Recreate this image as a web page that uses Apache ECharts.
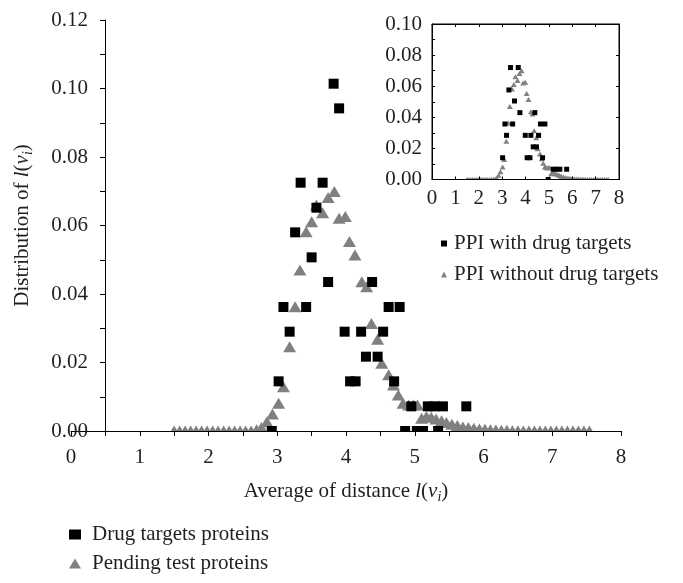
<!DOCTYPE html>
<html>
<head>
<meta charset="utf-8">
<script src="https://cdn.jsdelivr.net/npm/echarts@6/dist/echarts.min.js"></script>
<style>html,body{margin:0;padding:0;background:#fff}#c{width:683px;height:583px}</style>
</head>
<body>
<div id="c"></div>
<script>
// ---- main chart data ----
const drugX = [2.92, 3.02, 3.09, 3.18, 3.26, 3.34, 3.42, 3.50, 3.57, 3.66, 3.74, 3.82, 3.90, 3.98, 4.06, 4.14, 4.22, 4.29, 4.38, 4.46, 4.54, 4.62, 4.70, 4.78, 4.86, 4.95, 5.03, 5.12, 5.19, 5.29, 5.34, 5.41, 5.75];
const drugY = [0, 0.0145, 0.0362, 0.029, 0.058, 0.0725, 0.0362, 0.0507, 0.0652, 0.0725, 0.0435, 0.1014, 0.0942, 0.029, 0.0145, 0.0145, 0.029, 0.0217, 0.0435, 0.0217, 0.029, 0.0362, 0.0145, 0.0362, 0, 0.0072, 0, 0, 0.0072, 0.0072, 0, 0.0072, 0.0072];

const pendX = [1.50, 1.58, 1.66, 1.74, 1.82, 1.90, 1.98, 2.06, 2.14, 2.22, 2.30, 2.38, 2.46, 2.54, 2.62, 2.70, 2.77, 2.85, 2.93, 3.02, 3.09, 3.18, 3.26, 3.33, 3.42, 3.50, 3.57, 3.66, 3.74, 3.83, 3.90, 3.99, 4.05, 4.13, 4.23, 4.30, 4.37, 4.46, 4.52, 4.62, 4.69, 4.76, 4.83, 4.91, 4.98, 5.04, 5.10, 5.17, 5.24, 5.31, 5.39, 5.46, 5.54, 5.62, 5.70, 5.78, 5.86, 5.94, 6.02, 6.10, 6.18, 6.26, 6.34, 6.42, 6.50, 6.58, 6.66, 6.74, 6.82, 6.90, 6.98, 7.06, 7.14, 7.22, 7.30, 7.38, 7.46, 7.54];
const pendY = [0, 0, 0, 0, 0, 0, 0, 0, 0, 0, 0, 0, 0, 0, 0, 0.0004, 0.001, 0.0027, 0.005, 0.0081, 0.0129, 0.0246, 0.0363, 0.047, 0.0582, 0.0611, 0.066, 0.0637, 0.0682, 0.0699, 0.0621, 0.0626, 0.0553, 0.0514, 0.0436, 0.0421, 0.0314, 0.0268, 0.0198, 0.0164, 0.0134, 0.0105, 0.0081, 0.0076, 0.0076, 0.0076, 0.0037, 0.0042, 0.004, 0.0035, 0.003, 0.0025, 0.002, 0.0016, 0.0012, 0.001, 0.0008, 0.0006, 0.0005, 0.0004, 0.0003, 0.0002, 0.0002, 0.0001, 0.0001, 0, 0, 0, 0, 0, 0, 0, 0, 0, 0, 0, 0, 0];

// ---- inset data ----
const ppiWithX = [3.02, 3.12, 3.19, 3.29, 3.36, 3.45, 3.53, 3.69, 3.76, 3.99, 4.07, 4.19, 4.23, 4.33, 4.40, 4.47, 4.56, 4.64, 4.73, 4.83, 4.97, 5.19, 5.33, 5.47, 5.76];
const ppiWithY = [0.014, 0.0357, 0.0284, 0.0576, 0.072, 0.0357, 0.0505, 0.072, 0.043, 0.0284, 0.014, 0.014, 0.0284, 0.021, 0.043, 0.021, 0.0284, 0.0357, 0.014, 0.0357, 0, 0.0066, 0.0066, 0.0066, 0.0066];
const ppiWithoutX = pendX;
const ppiWithoutY = pendY;

// ---- tick labels ----
const mainXTicks = [0, 1, 2, 3, 4, 5, 6, 7, 8];
const mainYTicks = ['0.00', '0.02', '0.04', '0.06', '0.08', '0.10', '0.12'];
const insetYTicks = ['0.00', '0.02', '0.04', '0.06', '0.08', '0.10'];

const seriesNames = ['Drug targets proteins', 'Pending test proteins'];
const insetNames = ['PPI with drug targets', 'PPI without drug targets'];

const FONT = 'Liberation Serif';
const FS = 21;
const TXT = '#231f20';
const zip = (xs, ys) => xs.map((x, i) => [x, ys[i]]);

const richName = {
  n: {fontFamily: FONT, fontSize: FS, color: TXT, lineHeight: 26, verticalAlign: 'middle'},
  it: {fontFamily: FONT, fontSize: FS, fontStyle: 'italic', color: TXT, lineHeight: 26, verticalAlign: 'middle'},
  sub: {fontFamily: FONT, fontSize: 14, fontStyle: 'italic', color: TXT, lineHeight: 14, verticalAlign: 'bottom'}
};

const chart = echarts.init(document.getElementById('c'), null, {renderer: 'canvas'});
chart.setOption({
  animation: false,
  backgroundColor: '#fff',
  textStyle: {fontFamily: FONT},
  grid: [
    {left: 71, right: 62, top: 20, bottom: 152, containLabel: false},
    {left: 432, right: 64, top: 24, bottom: 403.5, containLabel: false, show: true, borderColor: '#000', borderWidth: 1}
  ],
  xAxis: [
    {
      gridIndex: 0, type: 'value', min: 0, max: 8, interval: 0.5, z: 10,
      axisLine: {show: true, onZero: false, lineStyle: {color: '#000', width: 1}},
      axisTick: {show: true, inside: false, length: 5, lineStyle: {color: '#000'}},
      axisLabel: {margin: 16, fontFamily: FONT, fontSize: FS, color: TXT,
        formatter: v => (mainXTicks.indexOf(v) >= 0 ? String(v) : '')},
      splitLine: {show: false},
      name: '{n|Average of distance }{it|l}{n|(}{it|v}{sub|i}{n|)}',
      nameLocation: 'middle', nameGap: 47,
      nameTextStyle: {rich: richName}
    },
    {
      gridIndex: 1, type: 'value', min: 0, max: 8, interval: 1, z: 10,
      axisLine: {show: true, onZero: false, lineStyle: {color: '#000'}},
      axisTick: {show: true, inside: true, length: 3, lineStyle: {color: '#000'}},
      axisLabel: {margin: 8, fontFamily: FONT, fontSize: FS, color: TXT},
      splitLine: {show: false}
    },
    {
      gridIndex: 1, type: 'value', position: 'top', min: 0, max: 8, interval: 1, z: 10,
      axisLine: {show: true, onZero: false, lineStyle: {color: '#000'}},
      axisTick: {show: true, inside: true, length: 3, lineStyle: {color: '#000'}},
      axisLabel: {show: false}, splitLine: {show: false}
    }
  ],
  yAxis: [
    {
      gridIndex: 0, type: 'value', min: 0, max: 0.12, interval: 0.01, offset: -34, z: 10,
      axisLine: {show: true, onZero: false, lineStyle: {color: '#000', width: 1}},
      axisTick: {show: true, inside: false, length: 5, lineStyle: {color: '#000'}},
      axisLabel: {margin: 17, fontFamily: FONT, fontSize: FS, color: TXT,
        formatter: v => {
          const s = v.toFixed(2);
          return mainYTicks.indexOf(s) >= 0 ? s : '';
        }},
      splitLine: {show: false},
      name: '{n|Distribution of }{it|l}{n|(}{it|v}{sub|i}{n|)}',
      nameLocation: 'middle', nameGap: 70, nameRotate: 90,
      nameTextStyle: {rich: richName}
    },
    {
      gridIndex: 1, type: 'value', min: 0, max: 0.1, interval: 0.01, z: 10,
      axisLine: {show: true, onZero: false, lineStyle: {color: '#000'}},
      axisTick: {show: true, inside: true, length: 3, lineStyle: {color: '#000'}},
      axisLabel: {margin: 10, fontFamily: FONT, fontSize: FS, color: TXT,
        formatter: v => {
          const s = v.toFixed(2);
          return insetYTicks.indexOf(s) >= 0 ? s : '';
        }},
      splitLine: {show: false}
    },
    {
      gridIndex: 1, type: 'value', position: 'right', min: 0, max: 0.1, interval: 0.02, z: 10,
      axisLine: {show: true, onZero: false, lineStyle: {color: '#000'}},
      axisTick: {show: true, inside: true, length: 3, lineStyle: {color: '#000'}},
      axisLabel: {show: false}, splitLine: {show: false}
    }
  ],
  legend: [
    {
      orient: 'vertical', left: 64, top: 519, itemWidth: 12, itemHeight: 10, itemGap: 8,
      data: [{name: seriesNames[0], icon: 'rect'}, {name: seriesNames[1], icon: 'triangle'}],
      textStyle: {fontFamily: FONT, fontSize: FS, color: TXT, padding: [0, 0, 0, 6]},
      selectedMode: false
    },
    {
      orient: 'vertical', left: 436, top: 228, itemWidth: 6, itemHeight: 6, itemGap: 10,
      data: [{name: insetNames[0], icon: 'rect'}, {name: insetNames[1], icon: 'triangle'}],
      textStyle: {fontFamily: FONT, fontSize: FS, color: TXT, padding: [0, 0, 0, 2]},
      selectedMode: false
    }
  ],
  graphic: [
    {type: 'rect', z: 5, silent: true, shape: {x: 40, y: 431.5, width: 620, height: 12}, style: {fill: '#fff'}},
    {type: 'rect', z: 5, silent: true, shape: {x: 420, y: 180, width: 220, height: 8}, style: {fill: '#fff'}}
  ],
  series: [
    {
      name: seriesNames[1], type: 'scatter', xAxisIndex: 0, yAxisIndex: 0, z: 2,
      symbol: 'triangle', symbolSize: [13, 11],
      itemStyle: {color: '#808080', opacity: 1},
      data: zip(pendX, pendY)
    },
    {
      name: seriesNames[0], type: 'scatter', xAxisIndex: 0, yAxisIndex: 0, z: 3,
      symbol: 'rect', symbolSize: 10,
      itemStyle: {color: '#000', opacity: 1},
      data: zip(drugX, drugY)
    },
    {
      name: insetNames[1], type: 'scatter', xAxisIndex: 1, yAxisIndex: 1, z: 2,
      symbol: 'triangle', symbolSize: [6, 5],
      itemStyle: {color: '#808080', opacity: 1},
      data: zip(ppiWithoutX, ppiWithoutY)
    },
    {
      name: insetNames[0], type: 'scatter', xAxisIndex: 1, yAxisIndex: 1, z: 3,
      symbol: 'rect', symbolSize: 5,
      itemStyle: {color: '#000', opacity: 1},
      data: zip(ppiWithX, ppiWithY)
    }
  ]
});
</script>
</body>
</html>
